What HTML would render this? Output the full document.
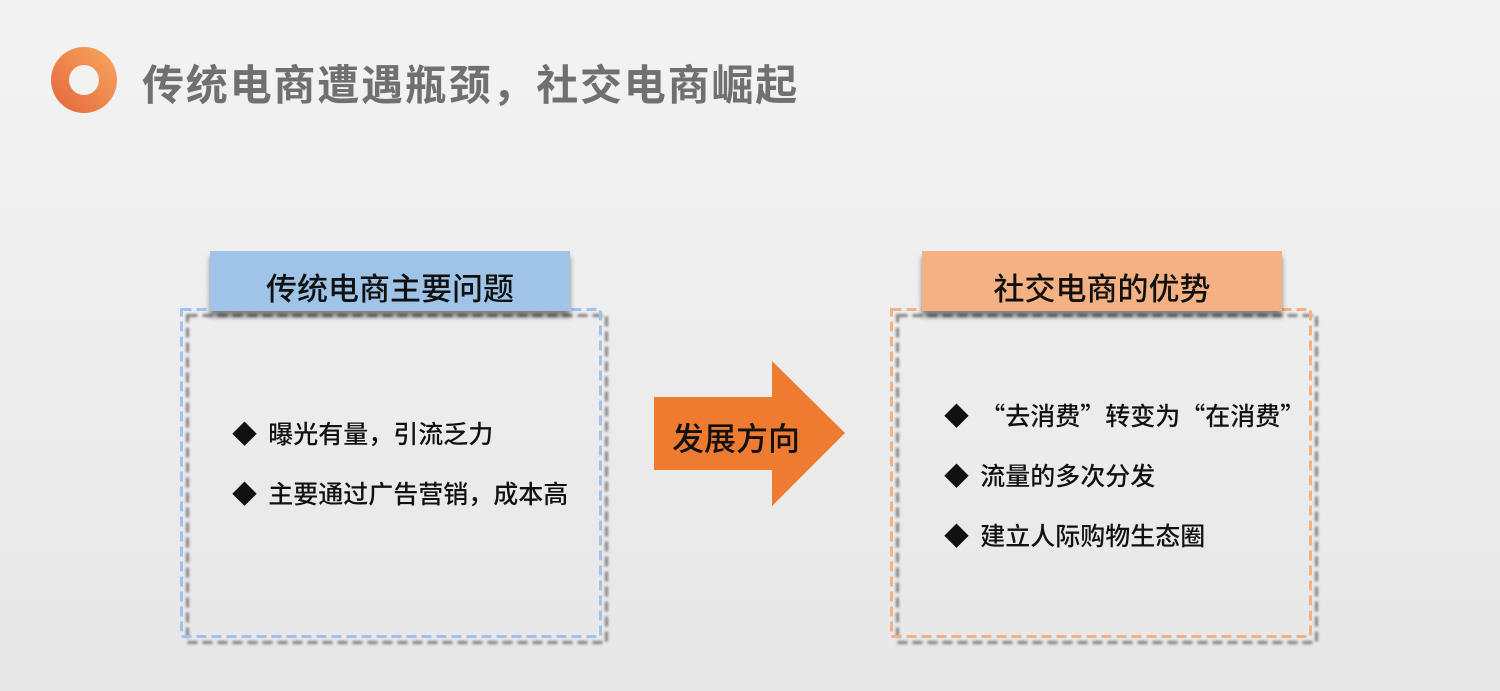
<!DOCTYPE html>
<html><head><meta charset="utf-8"><style>
body{margin:0;width:1500px;height:691px;overflow:hidden;background:linear-gradient(#f3f3f3,#e8e7e8);font-family:"Liberation Sans","Noto Sans CJK SC",sans-serif;position:relative}
.a{position:absolute}
.hd{position:absolute;height:60px;line-height:72px;text-align:center;font-size:31px;font-weight:500;color:#111;box-shadow:0 6px 5px rgba(0,0,0,.45);font-family:"Noto Sans CJK SC",sans-serif}
.it{position:absolute;font-size:25px;font-weight:500;color:#111;white-space:nowrap;font-family:"Noto Sans CJK SC",sans-serif;line-height:30px}
</style></head><body>
<div class="a" style="left:51px;top:47px;width:66px;height:66px;border-radius:50%;background:linear-gradient(45deg,#e4653a,#f9a960)"></div>
<div class="a" style="left:69px;top:65px;width:30px;height:30px;border-radius:50%;background:#f2f2f2"></div>
<div class="a" style="left:142px;top:56px;font-size:42px;font-weight:bold;color:#707070;line-height:60px;letter-spacing:1.8px">传统电商遭遇瓶颈，社交电商崛起</div>

<svg class="a" style="left:0;top:0" width="1500" height="691">
<defs><filter id="b"><feGaussianBlur stdDeviation="1.2"/></filter></defs>
<rect x="187.5" y="315.5" width="419" height="327" fill="none" stroke="#808080" stroke-width="3" stroke-dasharray="10,5" filter="url(#b)"/>
<rect x="181.5" y="309.5" width="419" height="327" fill="none" stroke="#9fc4e8" stroke-width="3" stroke-dasharray="10,5"/>
<rect x="897.5" y="315.5" width="419" height="327" fill="none" stroke="#808080" stroke-width="3" stroke-dasharray="10,5" filter="url(#b)"/>
<rect x="891.5" y="309.5" width="419" height="327" fill="none" stroke="#f4b183" stroke-width="3" stroke-dasharray="10,5"/>
<polygon points="654,397 772,397 772,361 845,433 772,506 772,470 654,470" fill="#ee7b30"/>
</svg>

<div class="hd" style="left:210px;top:251px;width:360px;background:#9fc4e8">传统电商主要问题</div>
<div class="it" style="left:232px;top:418px">◆&nbsp; 曝光有量，引流乏力</div>
<div class="it" style="left:232px;top:478px">◆&nbsp; 主要通过广告营销，成本高</div>

<div class="a" style="left:672px;top:414px;font-size:32px;font-weight:500;color:#111;font-family:'Noto Sans CJK SC',sans-serif">发展方向</div>

<div class="hd" style="left:922px;top:251px;width:360px;background:#f4b183">社交电商的优势</div>
<div class="it" style="left:944px;top:400px">◆&nbsp; “去消费”转变为“在消费”</div>
<div class="it" style="left:944px;top:460px">◆&nbsp; 流量的多次分发</div>
<div class="it" style="left:944px;top:520px">◆&nbsp; 建立人际购物生态圈</div>
</body></html>
